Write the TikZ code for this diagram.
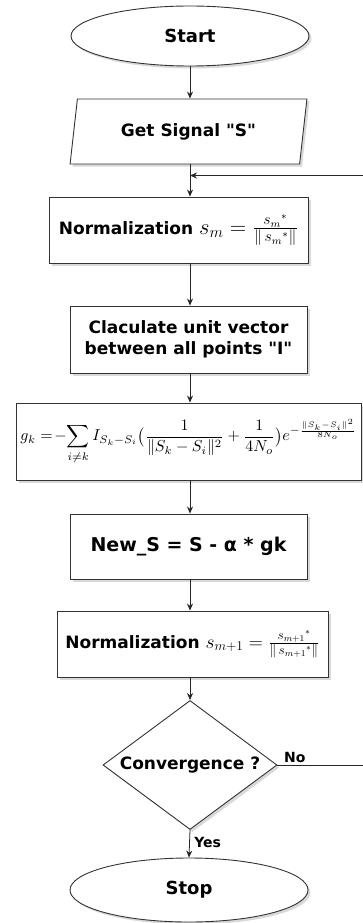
\documentclass[tikz,border=0pt]{standalone}
\usepackage{fontspec}
\setmainfont{DejaVu Sans}[Ligatures=TeXOff]
\usepackage{amsmath}
\usepackage{graphicx}
\usetikzlibrary{shapes.geometric,arrows.meta,shadows}
\begin{document}
\begin{tikzpicture}[x=1pt,y=-1pt,
  every node/.style={font=\bfseries},
  shd/.style={drop shadow={opacity=0.3,shadow xshift=2.5pt,shadow yshift=-2.5pt}},
  proc/.style={draw=black!80,line width=0.9pt,fill=white,shd,rectangle,inner sep=0pt,align=center},
  term/.style={draw=black!80,line width=0.9pt,fill=white,shd,ellipse,inner sep=0pt},
  io/.style={draw=black!80,line width=0.9pt,fill=white,shd,trapezium,trapezium left angle=75,trapezium right angle=105,trapezium stretches=true,inner sep=0pt},
  dec/.style={draw=black!80,line width=0.9pt,fill=white,shd,diamond,inner sep=0pt,shape aspect=1.35},
  arr/.style={-{Stealth[length=7pt,width=6pt]},line width=0.8pt,draw=black!85},
  lin/.style={line width=0.8pt,draw=black!85},
  lbl/.style={font=\bfseries\fontsize{14}{16}\selectfont}]
\useasboundingbox (0,0) rectangle (362,923);

\node[term,minimum width=238pt,minimum height=60pt,font=\bfseries\fontsize{18}{21}\selectfont] (start) at (190,36) {Start};
\node[io,minimum width=237pt,minimum height=65pt,font=\bfseries\fontsize{17}{20}\selectfont] (get) at (188.5,131.5) {Get Signal "S"};
\node[proc,minimum width=259pt,minimum height=66pt] (norm1) at (178.5,230) {\fontsize{17}{20}\selectfont Normalization \resizebox{99pt}{!}{$s_m=\frac{s_m{}^{*}}{\|\,s_m{}^{*}\|}$}};
\node[proc,minimum width=237pt,minimum height=67pt,font=\bfseries\fontsize{17}{21}\selectfont] (unit) at (188.5,339.5) {Claculate unit vector\\between all points "I"};
\node[proc,minimum width=345pt,minimum height=77pt] (gk) at (188.5,441.5) {\resizebox{336pt}{!}{$g_k=\!-\!\displaystyle\sum_{i\neq k} I_{S_k-S_i}\bigl(\frac{1}{\|S_k-S_i\|^2}+\frac{1}{4N_o}\bigr)e^{-\frac{\|S_k-S_i\|^2}{8N_o}}$}};
\node[proc,minimum width=237pt,minimum height=65pt,font=\bfseries\fontsize{19}{22}\selectfont] (news) at (188.5,546.5) {New\_S = S - α * gk};
\node[proc,minimum width=271pt,minimum height=66pt] (norm2) at (192.5,644) {\fontsize{17}{20}\selectfont Normalization \resizebox{114pt}{!}{$s_{m+1}=\frac{s_{m+1}{}^{*}}{\|\,s_{m+1}{}^{*}\|}$}};
\node[dec,minimum width=174pt,minimum height=129pt,font=\bfseries\fontsize{17}{20}\selectfont] (conv) at (190,765) {Convergence ?};
\node[term,minimum width=238pt,minimum height=64pt,font=\bfseries\fontsize{18}{21}\selectfont] (stop) at (189,890) {Stop};

\coordinate (join) at (190,175.5);
\coordinate (loopR) at (364,765);
\coordinate (loopT) at (364,175.5);

\draw[arr] (start.south) -- (get.north -| start.south);
\draw[lin] (get.south -| join) -- (join);
\draw[arr] (join) -- (norm1.north -| join);
\draw[arr] (norm1.south -| join) -- (unit.north -| join);
\draw[arr] (unit.south -| join) -- (gk.north -| join);
\draw[arr] (gk.south -| join) -- (news.north -| join);
\draw[arr] (news.south -| join) -- (norm2.north -| join);
\draw[arr] (norm2.south -| join) -- (conv.north);
\draw[arr] (conv.south) -- node[lbl,right,pos=0.45,xshift=1pt] (yes) {Yes} (stop.north);
\draw[lin] (conv.east) -- node[lbl,above,pos=0.2,yshift=-1pt] (no) {No} (loopR);
\draw[arr] (loopR) -- (loopT) -- (join);
\end{tikzpicture}
\end{document}
